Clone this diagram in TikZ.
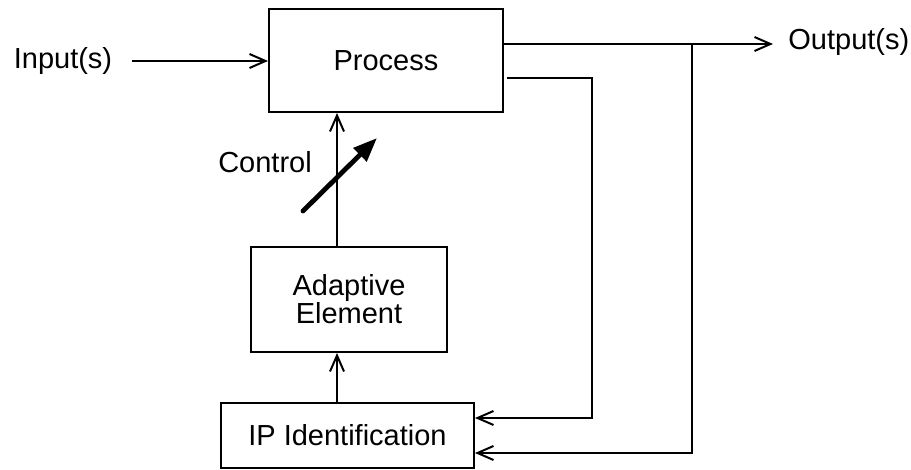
\documentclass[tikz,border=0pt]{standalone}
\usepackage{fontspec}
\setmainfont{Liberation Sans}
\usetikzlibrary{arrows.meta}
\begin{document}
\begin{tikzpicture}[x=0.5pt,y=-0.5pt,
  box/.style={draw,line width=1pt,rectangle,inner sep=0pt,align=center,font=\fontsize{14.5pt}{14pt}\selectfont},
  lbl/.style={inner sep=0pt,font=\fontsize{14.5pt}{14pt}\selectfont},
  conn/.style={line width=0.9pt},
  arr/.style={conn,-{Straight Barb[length=8pt,width=7pt,line width=1pt]}}]
\useasboundingbox (0,0) rectangle (911,470);
\node[box,minimum width=117pt,minimum height=51.5pt] (proc) at (386,60.5) {Process};
\node[box,minimum width=98pt,minimum height=52.5pt] (adapt) at (349,299.5) {Adaptive\\Element};
\node[box,minimum width=126.5pt,minimum height=32.5pt] (ip) at (347.5,435.5) {IP Identification};
\node[lbl] (inp) at (63,61) {Input(s)};
\node[lbl,anchor=west] (outp) at (788,42) {Output(s)};
\node[lbl] (ctrl) at (265,162) {Control};
\coordinate (cx) at (337,0);
\coordinate (intail) at (132,61);
\coordinate (outtip) at (773,44);
\coordinate (br) at (692,44);
\coordinate (fb) at (507,78);
\coordinate (fbc) at (592,78);
\coordinate (fbd) at (592,418);
\coordinate (brd) at (692,453);
\coordinate (d1) at (303,211);
\coordinate (d2) at (377,138);
\draw[arr] (intail) -- (proc.west |- intail);
\draw[arr] (proc.east |- outtip) -- (outtip);
\draw[arr] (br) -- (brd) -- (ip.east |- brd);
\draw[arr] (fb) -- (fbc) -- (fbd) -- (ip.east |- fbd);
\draw[arr] (adapt.north -| cx) -- (proc.south -| cx);
\draw[arr] (ip.north -| cx) -- (adapt.south -| cx);
\draw[line width=2.4pt,line cap=round,-{Triangle[length=12pt,width=9pt]}] (d1) -- (d2);
\end{tikzpicture}
\end{document}
